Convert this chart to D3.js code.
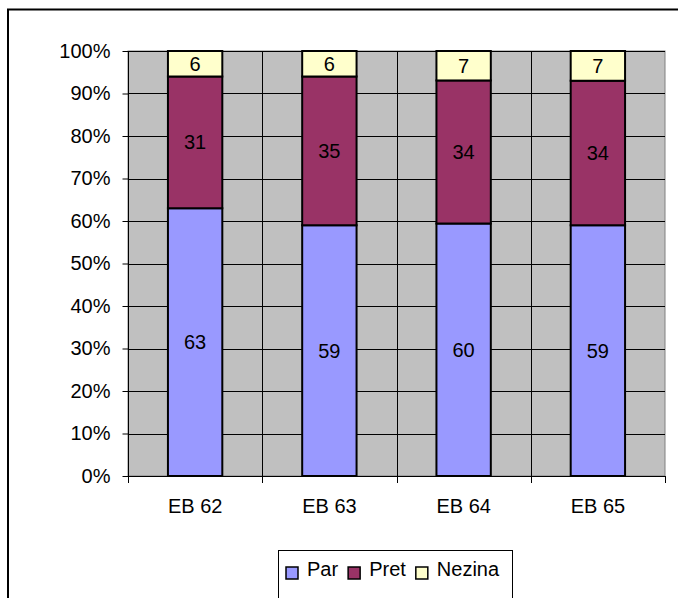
<!DOCTYPE html>
<html><head><meta charset="utf-8">
<script src="https://cdn.jsdelivr.net/npm/d3@7"></script>
<style>body{margin:0;background:#fff}svg{display:block;font-family:"Liberation Sans",Arial,sans-serif}</style>
</head><body><svg id="c" width="678" height="598"></svg>
<script>
const categories = ["EB 62", "EB 63", "EB 64", "EB 65"];
const seriesNames = ["Par", "Pret", "Nezina"];
const par = [63, 59, 60, 59];
const pret = [31, 35, 34, 34];
const nezina = [6, 6, 7, 7];
const colors = ["#9999FF", "#993366", "#FFFFCC"];
const yTicks = [0, 0.1, 0.2, 0.3, 0.4, 0.5, 0.6, 0.7, 0.8, 0.9, 1.0];

const svg = d3.select("#c");
const fs = 20;
// outer border
svg.append("rect").attr("x", 8).attr("y", 9.5).attr("width", 690).attr("height", 610)
  .attr("fill", "none").attr("stroke", "#000").attr("stroke-width", 2);

const L = 128, R = 665, T = 51, B = 476;
const x = d3.scaleBand().domain(categories).range([L, R]).padding(0);
const y = d3.scaleLinear().domain([0, 1]).range([B, T]);

svg.append("rect").attr("x", L).attr("y", T).attr("width", R - L).attr("height", B - T)
  .attr("fill", "#C0C0C0").attr("stroke", "#808080").attr("stroke-width", 1);

// horizontal gridlines
svg.append("g").selectAll("line").data(yTicks.slice(1)).join("line")
  .attr("x1", L).attr("x2", R).attr("y1", d => Math.round(y(d)) + 0.5).attr("y2", d => Math.round(y(d)) + 0.5)
  .attr("stroke", "#000").attr("stroke-width", 1);
// vertical gridlines at category boundaries
svg.append("g").selectAll("line").data(categories.slice(1)).join("line")
  .attr("x1", d => Math.round(x(d)) + 0.5).attr("x2", d => Math.round(x(d)) + 0.5)
  .attr("y1", T).attr("y2", B).attr("stroke", "#000").attr("stroke-width", 1);

// stacked data normalized to 100%
const rows = categories.map((c, i) => {
  const vals = [par[i], pret[i], nezina[i]];
  return { cat: c, vals, total: d3.sum(vals) };
});
const barW = x.bandwidth() * 0.405;
rows.forEach(r => {
  let acc = 0;
  r.vals.forEach((v, j) => {
    const y0 = y(acc / r.total), y1 = y((acc + v) / r.total);
    const cx = x(r.cat) + x.bandwidth() / 2;
    svg.append("rect").attr("x", cx - barW / 2).attr("y", y1).attr("width", barW).attr("height", y0 - y1)
      .attr("fill", colors[j]).attr("stroke", "#000").attr("stroke-width", 2);
    svg.append("text").attr("x", cx).attr("y", (y0 + y1) / 2).attr("dy", "0.35em")
      .attr("text-anchor", "middle").attr("font-size", fs).attr("fill", "#000").text(v);
    acc += v;
  });
});

// y axis
const yAxis = svg.append("g").attr("transform", `translate(${L + 0.5},0)`)
  .call(d3.axisLeft(y).tickValues(yTicks).tickFormat(d3.format(".0%")).tickSize(6).tickPadding(12));
yAxis.select(".domain").attr("stroke", "#000").attr("d", `M0,${T}V${B}`);
yAxis.selectAll(".tick line").attr("stroke", "#000");
yAxis.selectAll("text").attr("font-size", fs).attr("font-family", "Liberation Sans, Arial, sans-serif").attr("fill", "#000");

// x axis
const xAxis = svg.append("g").attr("transform", `translate(0,${B + 0.5})`)
  .call(d3.axisBottom(x).tickSize(0).tickPadding(22));
xAxis.select(".domain").attr("stroke", "#000").attr("d", `M${L},0H${R}`);
xAxis.selectAll("text").attr("font-size", fs).attr("font-family", "Liberation Sans, Arial, sans-serif").attr("fill", "#000");
// boundary ticks
const bounds = categories.map(c => x(c)).concat([R]);
svg.append("g").selectAll("line").data(bounds).join("line")
  .attr("x1", d => Math.round(d) + 0.5).attr("x2", d => Math.round(d) + 0.5)
  .attr("y1", B).attr("y2", B + 7).attr("stroke", "#000");

// legend
const lg = svg.append("g");
lg.append("rect").attr("x", 278.5).attr("y", 550.5).attr("width", 234).attr("height", 50)
  .attr("fill", "#fff").attr("stroke", "#000").attr("stroke-width", 1);
let lx = 286;
seriesNames.forEach((n, i) => {
  lg.append("rect").attr("x", lx).attr("y", 567).attr("width", 12).attr("height", 12)
    .attr("fill", colors[i]).attr("stroke", "#000").attr("stroke-width", 1.5);
  const t = lg.append("text").attr("x", lx + 21).attr("y", 576).attr("font-size", fs).attr("fill", "#000").text(n);
  lx = lx + 21 + t.node().getComputedTextLength() + 10;
});
</script></body></html>
